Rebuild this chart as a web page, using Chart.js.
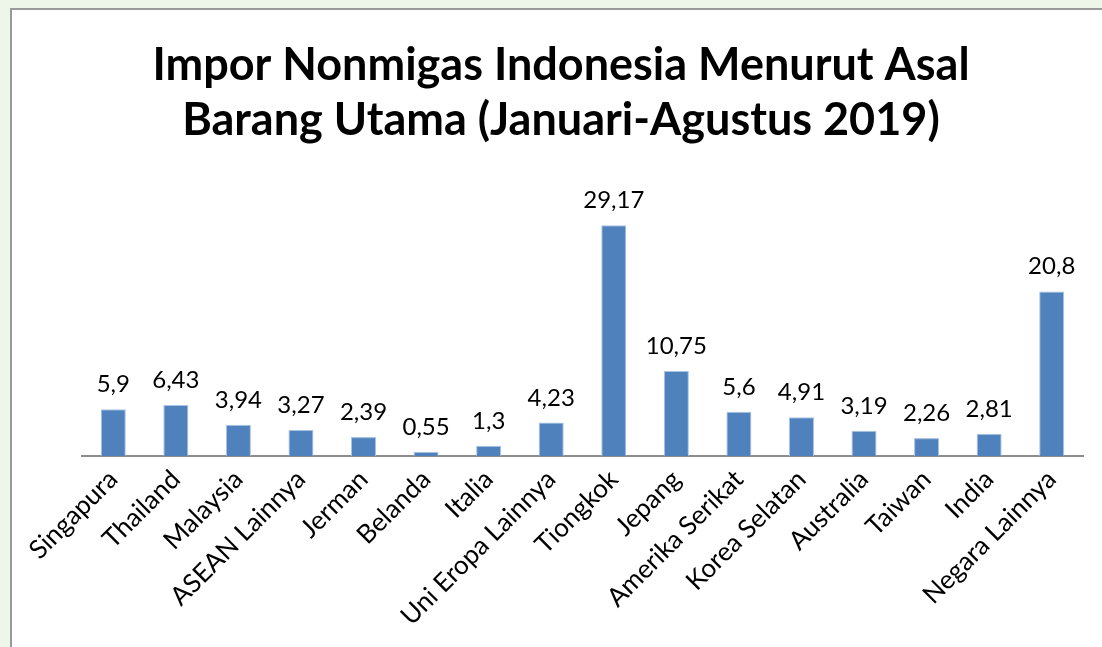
<!DOCTYPE html>
<html>
<head>
<meta charset="utf-8">
<script src="https://cdn.jsdelivr.net/npm/chart.js@4"></script>
<style>
  html, body { margin: 0; padding: 0; width: 1102px; height: 647px; overflow: hidden; background: #eef5e9; }
  #box { position: absolute; left: 10px; top: 8px; width: 1200px; height: 700px; background: #fff; border-left: 2px solid #9a9a9a; border-top: 2px solid #9a9a9a; }
  #wrap { position: absolute; left: 0; top: 0; width: 1102px; height: 647px; }
</style>
</head>
<body>
<div id="box"></div>
<div id="wrap"><canvas id="myChart" width="1102" height="647"></canvas></div>
<script>
let titleLines = ["Impor Nonmigas Indonesia Menurut Asal", "Barang Utama (Januari-Agustus 2019)"];
let negara = [
    "Singapura",
    "Thailand",
    "Malaysia",
    "ASEAN Lainnya",
    "Jerman",
    "Belanda",
    "Italia",
    "Uni Eropa Lainnya",
    "Tiongkok",
    "Jepang",
    "Amerika Serikat",
    "Korea Selatan",
    "Australia",
    "Taiwan",
    "India",
    "Negara Lainnya"
];
let nilai = [5.9, 6.43, 3.94, 3.27, 2.39, 0.55, 1.3, 4.23, 29.17, 10.75, 5.6, 4.91, 3.19, 2.26, 2.81, 20.8];

// judul ditulis sendiri supaya posisinya pas di tengah kotak
const judulPlugin = {
    id: 'judul',
    afterDraw(chart) {
        const c = chart.ctx;
        c.save();
        c.fillStyle = '#000';
        c.font = 'bold 45px Lato';
        c.textAlign = 'center';
        c.textBaseline = 'alphabetic';
        c.fillText(titleLines[0], 561, 80);
        c.fillText(titleLines[1], 561, 135);
        c.restore();
    }
};

// angka di atas batang
const labelPlugin = {
    id: 'nilaiLabel',
    afterDatasetsDraw(chart) {
        const c = chart.ctx;
        const meta = chart.getDatasetMeta(0);
        c.save();
        c.fillStyle = '#000';
        c.font = '24px Lato';
        c.textAlign = 'center';
        c.textBaseline = 'alphabetic';
        meta.data.forEach((bar, i) => {
            c.fillText(String(nilai[i]).replace('.', ','), bar.x, bar.y - 17);
        });
        c.restore();
    }
};

const ctx = document.getElementById('myChart').getContext('2d');
const myChart = new Chart(ctx, {
    type: 'bar',
    data: {
        labels: negara,
        datasets: [{
            label: "Impor Nonmigas",
            data: nilai,
            backgroundColor: '#4f81bd',
            borderColor: '#a9c3e3',
            borderWidth: 1,
            categoryPercentage: 1,
            barPercentage: 0.4
        }]
    },
    options: {
        responsive: false,
        animation: false,
        layout: {
            padding: { left: 82, right: 19, top: 179, bottom: 11 }
        },
        plugins: {
            legend: { display: false },
            title: { display: false },
            tooltip: { enabled: false }
        },
        scales: {
            y: {
                display: false,
                min: 0,
                max: 35
            },
            x: {
                grid: { display: false, drawTicks: false },
                border: { display: true, color: '#8c8c8c', width: 2 },
                ticks: {
                    color: '#000',
                    font: { family: 'Lato', size: 26 },
                    maxRotation: 45,
                    minRotation: 45,
                    autoSkip: false,
                    padding: 8
                },
                afterFit(axis) { axis.height = 180; }
            }
        }
    },
    plugins: [judulPlugin, labelPlugin]
});
</script>
</body>
</html>
